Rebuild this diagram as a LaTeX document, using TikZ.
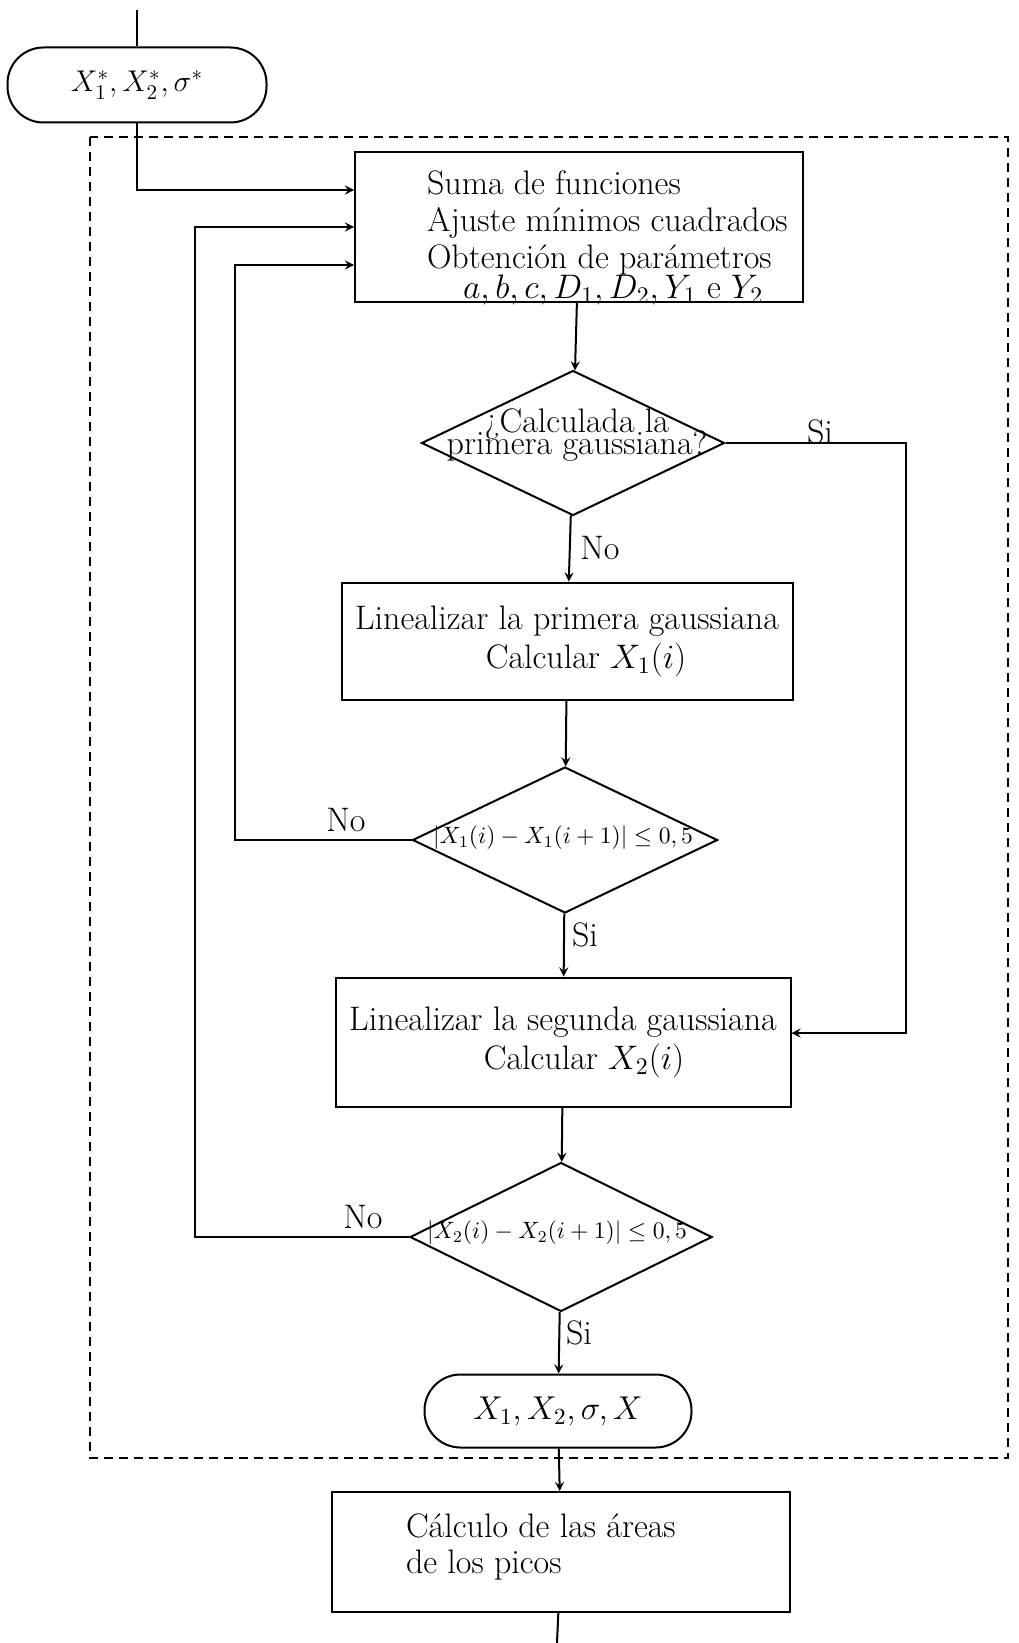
\documentclass[tikz,border=0pt]{standalone}
\usepackage{fix-cm}
\usetikzlibrary{arrows,shapes,positioning}
\tikzset{>=stealth}
\tikzset{
  proc/.style={draw, rectangle, inner sep=0pt},
  term/.style={draw, rectangle, rounded corners=18pt, inner sep=0pt},
  decis/.style={draw, diamond, inner sep=0pt},
  txt/.style={inner sep=0pt, align=left},
  condtxt/.style={inner sep=0pt, font=\fontsize{11.8}{14}\selectfont},
}

\begin{document}
\begin{tikzpicture}[x=0.5pt, y=-0.5pt, line width=1pt, font=\fontsize{17}{19.5}\selectfont]
\useasboundingbox (0,0) rectangle (1018,1643);
% entrada y salida
\coordinate (top) at (137,10);
\coordinate (bot) at (557,1643);
\node[term, minimum width=129.5pt, minimum height=37.5pt, font=\fontsize{15}{17}\selectfont] (ini) at (137,85) {$X_1^*, X_2^*, \sigma^*$};
% recuadro punteado
\draw[dash pattern=on 4.5pt off 3pt, line width=0.8pt] (90,137) rectangle (1008,1458);
% ajuste
\node[proc, minimum width=224pt, minimum height=75pt] (suma) at (579,227) {};
\node[txt, anchor=north west, font=\fontsize{17}{18.3}\selectfont] (sumatxt) at (426,170) {Suma de funciones\\ Ajuste mínimos cuadrados\\ Obtención de parámetros\\[-3pt] \hspace*{18pt}$a, b, c, D_1, D_2, Y_1$ e $Y_2$};
\node[decis, minimum width=151.5pt, minimum height=72.5pt] (calc) at (573,443) {};
\node[inner sep=0pt, align=center, font={\fontsize{17}{10.8}\selectfont\lineskiplimit=-20pt}] (calctxt) at (577,435) {¿Calculada la\\ primera gaussiana?};
% primera gaussiana
\node[proc, minimum width=225.5pt, minimum height=58.5pt, align=center] (lin1) at (567,641) {Linealizar la primera gaussiana\\ \hspace*{19pt}Calcular $X_1(i)$};
\node[decis, minimum width=152.5pt, minimum height=73pt] (chk1) at (565,840) {};
\node[condtxt] (chk1txt) at (563,838) {$|X_1(i) - X_1(i+1)| \leq 0,5$};
% segunda gaussiana
\node[proc, minimum width=227.5pt, minimum height=64.5pt, align=center] (lin2) at (563,1042) {Linealizar la segunda gaussiana\\ \hspace*{21pt}Calcular $X_2(i)$};
\node[decis, minimum width=151pt, minimum height=74.5pt] (chk2) at (561,1237) {};
\node[condtxt] (chk2txt) at (557,1233) {$|X_2(i) - X_2(i+1)| \leq 0,5$};
% resultado
\node[term, minimum width=133.5pt, minimum height=36.5pt, font=\fontsize{16.5}{18}\selectfont] (fin) at (558,1411) {$X_1, X_2, \sigma, X$};
\node[proc, minimum width=229pt, minimum height=60pt] (area) at (561,1552) {};
\node[txt, anchor=west, font=\fontsize{17}{18}\selectfont] (areatxt) at (405,1547) {Cálculo de las áreas\\ de los picos};
% conexiones
\draw (top) -- (ini);
\draw[->] (ini) |- ([yshift=18.5pt]suma.west);
\draw[->] (suma) -- (calc);
\draw[->] (calc) -- (lin1);
\draw[->] (calc.east) -- ++(180,0) |- ([yshift=4.5pt]lin2.east);
\draw[->] (lin1) -- (chk1);
\draw[->] (chk1.west) -- ++(-177,0) |- ([yshift=-19pt]suma.west);
\draw[->] (chk1) -- (lin2);
\draw[->] (lin2) -- (chk2);
\draw[->] (chk2.west) -- ++(-214,0) |- (suma.west);
\draw[->] (chk2) -- (fin);
\draw[->] (fin) -- (area);
\draw (area) -- (bot);
% etiquetas
\node (si1) at (820,432) {Si};
\node (no1) at (600,548) {No};
\node (no2) at (346,820) {No};
\node (si2) at (585,935) {Si};
\node (no3) at (363,1217) {No};
\node (si3) at (579,1333) {Si};
\end{tikzpicture}
\end{document}
